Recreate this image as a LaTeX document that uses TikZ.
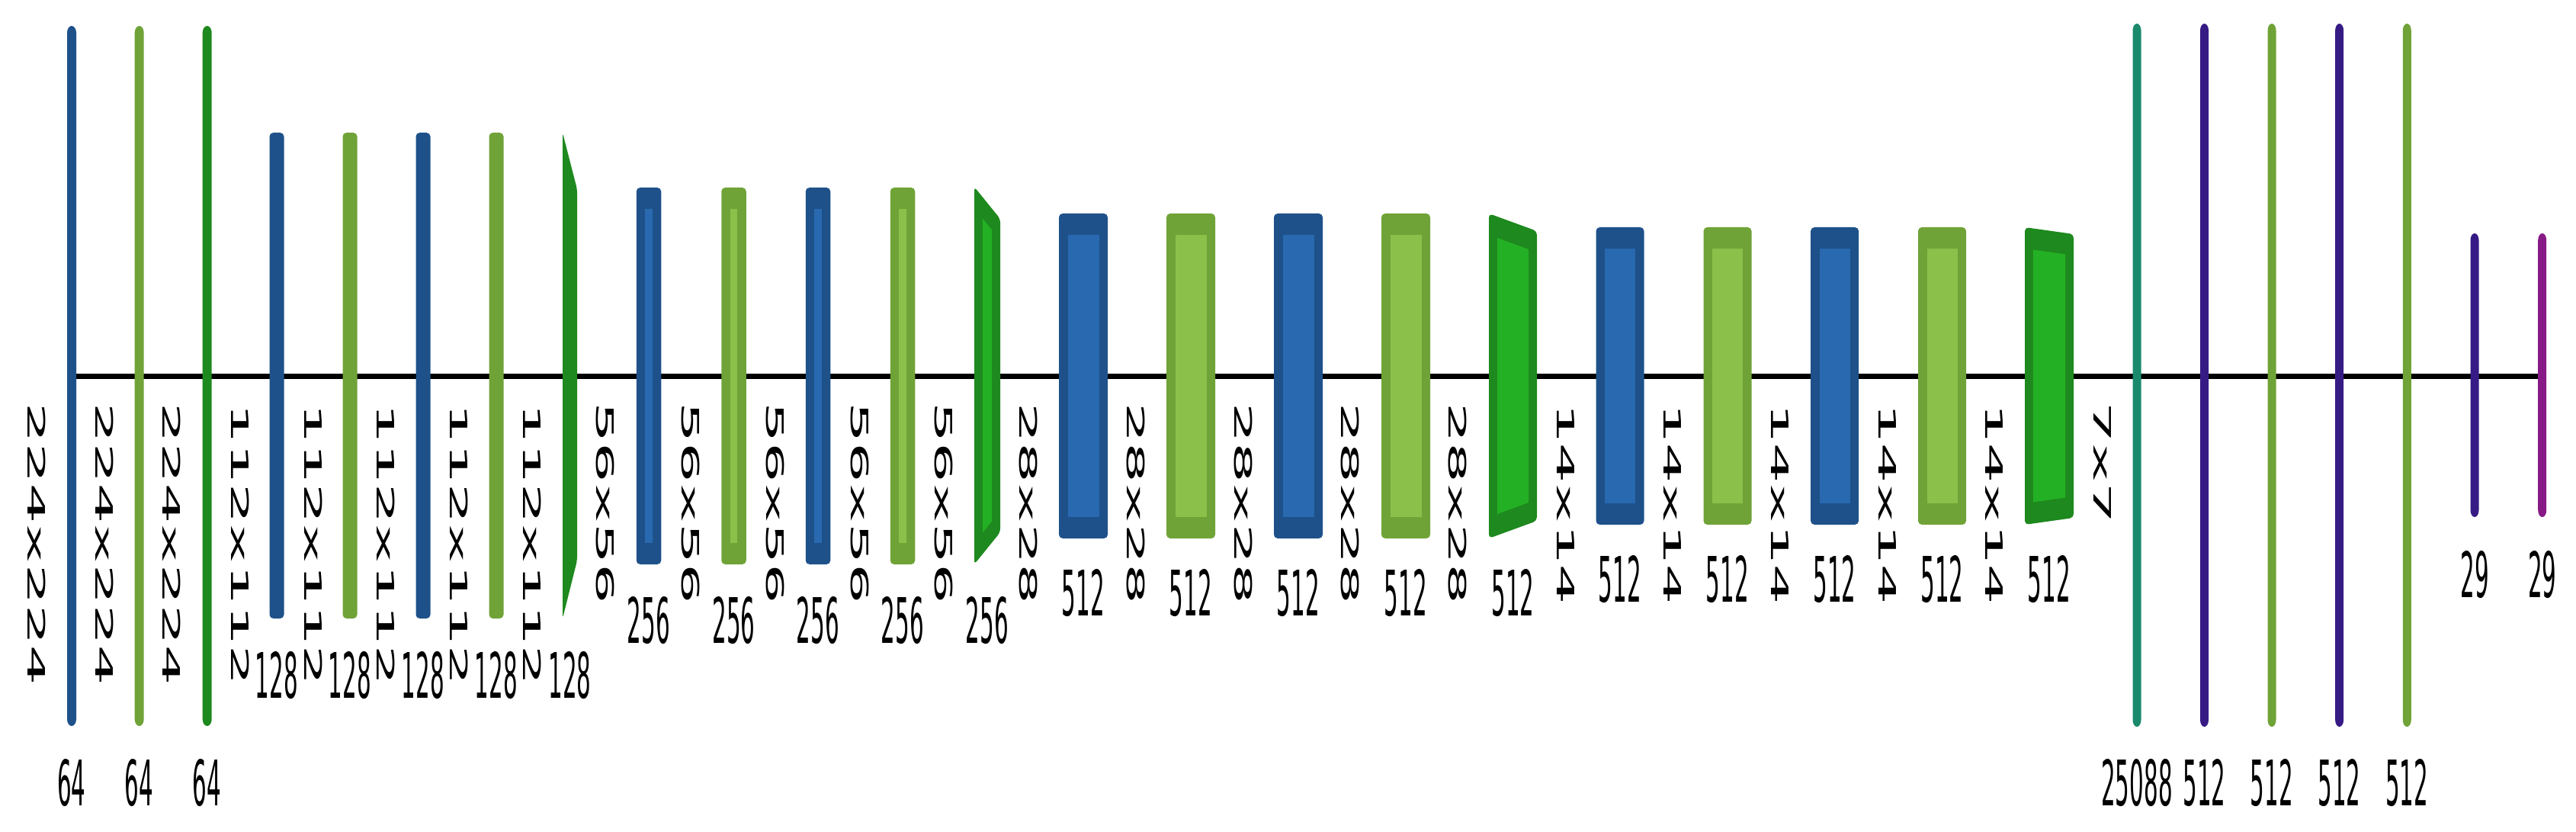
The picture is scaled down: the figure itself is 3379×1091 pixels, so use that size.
\documentclass[tikz,border=0pt]{standalone}
\usepackage{fontspec}
\usepackage{graphicx}
\newfontfamily\numfont{DejaVu Sans}
\newfontfamily\dimfont{DejaVu Sans Mono}
\usetikzlibrary{backgrounds}
\definecolor{convD}{RGB}{30,81,137}
\definecolor{convL}{RGB}{40,105,176}
\definecolor{reluD}{RGB}{112,163,55}
\definecolor{reluL}{RGB}{139,192,75}
\definecolor{poolD}{RGB}{30,137,30}
\definecolor{poolL}{RGB}{36,176,36}
\definecolor{fcT}{RGB}{27,138,108}
\definecolor{fcP}{RGB}{55,27,133}
\definecolor{fcM}{RGB}{136,26,134}
\tikzset{
  numlbl/.style={font=\numfont\fontsize{29.4}{30}\selectfont, inner sep=0pt, anchor=center},
  dimlbl/.style={font=\dimfont\fontsize{31.5}{32}\selectfont, inner sep=0pt, rotate=-90, anchor=west},
  axisline/.style={line width=7pt, black},
}
% thin bar with elliptic ends: name, xc, w, ytop, ybot, colour
\newcommand\thinbar[6]{%
  \fill[#6] ({#2-#3/2},{#4+9}) arc[start angle=180,end angle=0,x radius={#3/2*1pt},y radius=9pt]
     -- ({#2+#3/2},{#5-9}) arc[start angle=0,end angle=-180,x radius={#3/2*1pt},y radius=9pt] -- cycle;
  \coordinate (#1) at (#2,493);}
% solid bar: name, xc, w, ytop, ybot, colour
\newcommand\midbar[6]{%
  \fill[#6, rounded corners=5pt] ({#2-#3/2},#4) rectangle ({#2+#3/2},#5);
  \coordinate (#1) at (#2,493);}
% box with border: name, xc, w, ytop, ybot, dark, light
\newcommand\convbox[7]{%
  \fill[#6, rounded corners=5pt] ({#2-#3/2},#4) rectangle ({#2+#3/2},#5);
  \fill[#7] ({#2-#3/2+11.5},{#4+28}) rectangle ({#2+#3/2-11.5},{#5-28});
  \coordinate (#1) at (#2,493);}
% pool trapezoid: name, xl, xr, ylt, ylb, yrt, yrb
\newcommand\poolouter[7]{%
  \fill[poolD, rounded corners=5pt] (#2,#4) -- (#3,#6) -- (#3,#7) -- (#2,#5) -- cycle;
  \coordinate (#1) at ({(#2+#3)/2},493);}
\newcommand\poolbox[7]{%
  \poolouter{#1}{#2}{#3}{#4}{#5}{#6}{#7}%
  \fill[poolL] ({#2+11},{#4+(#6-#4)*11/(#3-#2)+28}) -- ({#3-11},{#6-(#6-#4)*11/(#3-#2)+28})
     -- ({#3-11},{#7-(#7-#5)*11/(#3-#2)-28}) -- ({#2+11},{#5+(#7-#5)*11/(#3-#2)-28}) -- cycle;}
\newcommand\numl[4]{\node[numlbl] (#1) at (#2,#3) {\scalebox{1}[2.8]{#4}};}
\newcommand\diml[3]{\node[dimlbl] (#1) at (#2,527) {\scalebox{2.8}[1]{#3}};}
\begin{document}
\begin{tikzpicture}[x=1pt,y=-1pt]
\useasboundingbox (0,0) rectangle (3379,1091);
% stage 224
\thinbar{L1}{94}{12}{34}{952}{convD}
\thinbar{L2}{182.7}{12}{34}{952}{reluD}
\thinbar{L3}{271.7}{12}{34}{952}{poolD}
% stage 112
\midbar{L4}{363}{19}{174}{811}{convD}
\midbar{L5}{459}{19}{174}{811}{reluD}
\midbar{L6}{555}{19}{174}{811}{convD}
\midbar{L7}{651}{19}{174}{811}{reluD}
\poolouter{L8}{738}{757}{174}{811}{248}{735}
% stage 56
\convbox{L9}{851}{32.5}{246}{740}{convD}{convL}
\convbox{L10}{962.5}{32.5}{246}{740}{reluD}{reluL}
\convbox{L11}{1073}{32.5}{246}{740}{convD}{convL}
\convbox{L12}{1184}{32.5}{246}{740}{reluD}{reluL}
\poolbox{L13}{1278}{1312}{245}{740}{287}{698}
% stage 28
\convbox{L14}{1421}{64}{280}{706}{convD}{convL}
\convbox{L15}{1562}{64}{280}{706}{reluD}{reluL}
\convbox{L16}{1703}{64}{280}{706}{convD}{convL}
\convbox{L17}{1844}{64}{280}{706}{reluD}{reluL}
\poolbox{L18}{1953}{2016}{280}{706}{303}{683}
% stage 14
\convbox{L19}{2125}{63}{298}{688}{convD}{convL}
\convbox{L20}{2266}{63}{298}{688}{reluD}{reluL}
\convbox{L21}{2406.6}{63}{298}{688}{convD}{convL}
\convbox{L22}{2547.5}{63}{298}{688}{reluD}{reluL}
\poolbox{L23}{2656}{2720}{298}{688}{307}{679}
% fully connected
\thinbar{L24}{2803}{11}{31}{953}{fcT}
\thinbar{L25}{2891.5}{11}{31}{953}{fcP}
\thinbar{L26}{2980}{11}{31}{953}{reluD}
\thinbar{L27}{3068.6}{11}{31}{953}{fcP}
\thinbar{L28}{3157.3}{11}{31}{953}{reluD}
\thinbar{L29}{3246}{11}{306}{678}{fcP}
\thinbar{L30}{3334.7}{11}{306}{678}{fcM}
\begin{pgfonlayer}{background}
\draw[axisline] (L1) -- (L30);
\end{pgfonlayer}
% size labels
\diml{d1}{48.5}{224x224}
\diml{d2}{136.7}{224x224}
\diml{d3}{225.5}{224x224}
\diml{d4}{314.8}{112x112}
\diml{d5}{411}{112x112}
\diml{d6}{506.4}{112x112}
\diml{d7}{602}{112x112}
\diml{d8}{697.7}{112x112}
\diml{d9}{794}{56x56}
\diml{d10}{906}{56x56}
\diml{d11}{1016.7}{56x56}
\diml{d12}{1128}{56x56}
\diml{d13}{1238}{56x56}
\diml{d14}{1349}{28x28}
\diml{d15}{1489.8}{28x28}
\diml{d16}{1630.6}{28x28}
\diml{d17}{1771}{28x28}
\diml{d18}{1912}{28x28}
\diml{d19}{2053.6}{14x14}
\diml{d20}{2194}{14x14}
\diml{d21}{2335}{14x14}
\diml{d22}{2475.5}{14x14}
\diml{d23}{2616}{14x14}
\diml{d24}{2758}{7x7}
% channel labels
\numl{n1}{94}{1027}{64}
\numl{n2}{182.7}{1027}{64}
\numl{n3}{271.7}{1027}{64}
\numl{n4}{363}{885.5}{128}
\numl{n5}{459}{885.5}{128}
\numl{n6}{555}{885.5}{128}
\numl{n7}{651}{885.5}{128}
\numl{n8}{747.5}{885.5}{128}
\numl{n9}{851}{813.7}{256}
\numl{n10}{962.5}{813.7}{256}
\numl{n11}{1073}{813.7}{256}
\numl{n12}{1184}{813.7}{256}
\numl{n13}{1295}{813.7}{256}
\numl{n14}{1421}{778}{512}
\numl{n15}{1562}{778}{512}
\numl{n16}{1703}{778}{512}
\numl{n17}{1844}{778}{512}
\numl{n18}{1984.5}{778}{512}
\numl{n19}{2125}{760}{512}
\numl{n20}{2266}{760}{512}
\numl{n21}{2406.6}{760}{512}
\numl{n22}{2547.5}{760}{512}
\numl{n23}{2688}{760}{512}
\numl{n24}{2803}{1027}{25088}
\numl{n25}{2891.5}{1027}{512}
\numl{n26}{2980}{1027}{512}
\numl{n27}{3068.6}{1027}{512}
\numl{n28}{3157.3}{1027}{512}
\numl{n29}{3246}{753.5}{29}
\numl{n30}{3334.7}{753.5}{29}
\end{tikzpicture}
\end{document}
